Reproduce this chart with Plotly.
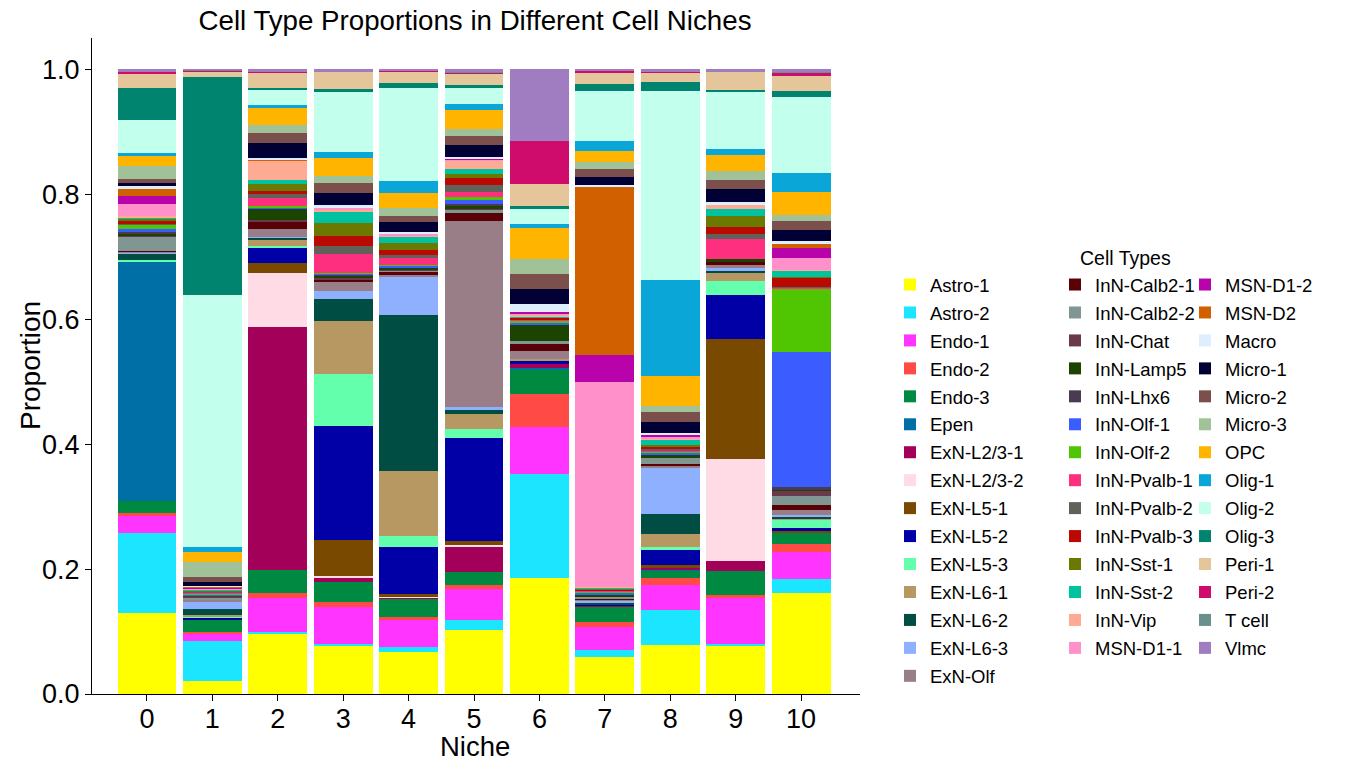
import plotly.graph_objects as go

niches = list(range(11))

cell_types = [
    "Astro-1", "Astro-2", "Endo-1", "Endo-2", "Endo-3", "Epen",
    "ExN-L2/3-1", "ExN-L2/3-2", "ExN-L5-1", "ExN-L5-2", "ExN-L5-3",
    "ExN-L6-1", "ExN-L6-2", "ExN-L6-3", "ExN-Olf",
    "InN-Calb2-1", "InN-Calb2-2", "InN-Chat", "InN-Lamp5", "InN-Lhx6",
    "InN-Olf-1", "InN-Olf-2", "InN-Pvalb-1", "InN-Pvalb-2", "InN-Pvalb-3",
    "InN-Sst-1", "InN-Sst-2", "InN-Vip", "MSN-D1-1",
    "MSN-D1-2", "MSN-D2", "Macro", "Micro-1", "Micro-2", "Micro-3",
    "OPC", "Olig-1", "Olig-2", "Olig-3", "Peri-1", "Peri-2", "T cell", "Vlmc",
]

colors = [
    "#FFFF00", "#1CE6FF", "#FF34FF", "#FF4A46", "#008941", "#006FA6",
    "#A30059", "#FFDBE5", "#7A4900", "#0000A6", "#63FFAC",
    "#B79762", "#004D43", "#8FB0FF", "#997D87",
    "#5A0007", "#809693", "#6A3A4C", "#1B4400", "#4A3B53",
    "#3B5DFF", "#4FC601", "#FF2F80", "#61615A", "#BA0900",
    "#6B7900", "#00C2A0", "#FFAA92", "#FF90C9",
    "#B903AA", "#D16100", "#DDEFFF", "#000035", "#7B4F4B", "#A1C299",
    "#FFB500", "#0AA6D8", "#C2FFED", "#00846F", "#E5C69A", "#CF0C6B", "#6A8F8D", "#A07CC0",
]

# proportions per niche, in the order of cell_types
niche_0 = [.130, .128, .027, .005, .020, .385, 0, 0, 0, 0, .002, 0, .010, .001, .002,
           .002, .022, .002, .004, .001, .006, .006, .001, .001, .005, .003, .002, .003, .018,
           .014, .010, .005, .005, .006, .021, .017, .005, .053, .051, .022, .005, 0, .003]
niche_1 = [.021, .064, .011, .004, .019, 0, 0, 0, .001, .002, .001, .004, .009, .013, .002,
           .001, .003, .001, .001, .001, .002, .001, .001, .002, .001, .001, .001, .001, .001,
           .001, .002, .001, .006, .009, .023, .017, .007, .405, .350, .009, .001, .001, .001]
niche_2 = [.097, .003, .055, .008, .037, 0, .392, .087, .016, .026, .002, .011, .002, .002, .013,
           .011, .001, .002, .018, .001, .001, .002, .013, .006, .006, .011, .006, .031, .001,
           0, .002, .002, .024, .016, .013, .027, .005, .026, .002, .024, .003, 0, .003]
niche_3 = [.077, .003, .060, .008, .032, 0, .007, .003, .057, .183, .084, .085, .035, .013, .014,
           .003, .001, .002, .004, .001, .002, .002, .030, .013, .016, .021, .018, .003, .002,
           0, 0, .005, .019, .016, .011, .029, .011, .096, .005, .027, .001, 0, .003]
niche_4 = [.068, .007, .043, .006, .029, 0, .002, .001, .004, .075, .018, .105, .250, .061, .003,
           .005, .001, .001, .004, .001, .002, .002, .010, .005, .008, .011, .011, .002, .003,
           0, 0, .002, .016, .010, .013, .024, .019, .149, .008, .019, .001, 0, .002]
niche_5 = [.103, .015, .050, .007, .020, 0, .041, .002, .007, .165, .014, .024, .006, .005, .298,
           .013, .005, .001, .006, .003, .006, .005, .008, .011, .011, .006, .008, .014, .001,
           .002, 0, .003, .019, .014, .011, .030, .010, .027, .003, .019, .002, .001, .004]
niche_6 = [.185, .167, .076, .052, .040, .002, .006, 0, 0, .005, .001, .002, 0, 0, .013,
           .011, .005, 0, .027, 0, .003, .003, .002, 0, .002, 0, .003, .002, .002,
           .002, 0, .014, .024, .024, .024, .049, .006, .024, .005, .035, .069, 0, .115]
niche_7 = [.060, .010, .038, .007, .025, 0, .002, 0, 0, .002, 0, 0, .003, .002, .002,
           .002, .004, 0, .003, 0, .002, .002, .002, 0, .002, .001, .002, .001, .328,
           .043, .270, .002, .013, .013, .011, .018, .016, .080, .011, .019, .003, 0, .002]
niche_8 = [.079, .056, .040, .010, .013, .002, .003, 0, .003, .024, .005, .021, .032, .075, .002,
           .003, .010, 0, .006, 0, .002, .002, .002, .003, .003, .003, .008, .002, .003,
           .003, 0, .002, .018, .016, .010, .048, .153, .303, .015, .015, .002, 0, .003]
niche_9 = [.078, .002, .073, .005, .039, 0, .016, .162, .192, .071, .022, .014, .002, .005, .006,
           .003, 0, 0, .006, 0, 0, 0, .032, .008, .010, .019, .010, .008, 0,
           0, 0, .003, .022, .014, .014, .026, .010, .091, .003, .029, .001, 0, .003]
niche_10 = [.163, .022, .043, .013, .019, 0, 0, 0, .002, .006, .013, .002, .003, .003, .008,
            .008, .014, .008, .003, .003, .217, .103, .001, .002, .014, .002, .010, .001, .019,
            .016, .006, .005, .018, .014, .011, .037, .030, .122, .010, .024, .005, .001, .005]

niche_values = [niche_0, niche_1, niche_2, niche_3, niche_4, niche_5,
                niche_6, niche_7, niche_8, niche_9, niche_10]

legend_of = ["legend"] * 15 + ["legend2"] * 14 + ["legend3"] * 14

fig = go.Figure()
for i, (name, col) in enumerate(zip(cell_types, colors)):
    fig.add_trace(go.Bar(
        x=niches,
        y=[vals[i] for vals in niche_values],
        name=name,
        marker=dict(color=col, line=dict(width=0)),
        width=0.9,
        legend=legend_of[i],
        legendgroup=name,
    ))

font_family = "Liberation Sans, Arial, sans-serif"
leg_common = dict(
    yanchor="top", xanchor="left", bgcolor="rgba(0,0,0,0)",
    font=dict(family=font_family, size=18.5, color="black"),
    tracegroupgap=0.9, traceorder="grouped", itemclick=False,
)

L, R, T, B = 92, 500, 38, 78
PW = 1360 - L - R
PH = 772 - T - B

def px_x(p):
    return (p - L) / PW

def px_y(p):
    return (772 - B - p) / PH

fig.update_layout(
    width=1360, height=772,
    barmode="stack", barnorm="fraction",
    plot_bgcolor="white", paper_bgcolor="white",
    margin=dict(l=L, r=R, t=T, b=B, autoexpand=False),
    font=dict(family=font_family, color="black"),
    title=dict(text="Cell Type Proportions in Different Cell Niches",
               x=px_x(475), xref="paper", xanchor="center",
               y=1 - 20 / 772, yanchor="middle",
               font=dict(size=27.7, family=font_family, color="black")),
    xaxis=dict(
        range=[-0.84, 10.9], tickmode="array", tickvals=niches,
        ticktext=[str(n) for n in niches],
        showline=True, linecolor="black", linewidth=1.2,
        ticks="outside", ticklen=6, tickwidth=1.2, tickcolor="black",
        showgrid=False, zeroline=False, automargin=False,
        ticklabelstandoff=-6,
        tickfont=dict(size=27, family=font_family),
    ),
    yaxis=dict(
        range=[0, 1.05], tickmode="array",
        tickvals=[0, 0.2, 0.4, 0.6, 0.8, 1.0],
        ticktext=["0.0", "0.2", "0.4", "0.6", "0.8", "1.0"],
        showline=True, linecolor="black", linewidth=1.2,
        ticks="outside", ticklen=6, tickwidth=1.2, tickcolor="black",
        showgrid=False, zeroline=False, automargin=False,
        tickfont=dict(size=27, family=font_family),
    ),
    legend=dict(x=px_x(890), y=px_y(266), **leg_common),
    legend2=dict(x=px_x(1055), y=px_y(266), **leg_common),
    legend3=dict(x=px_x(1185), y=px_y(266), **leg_common),
    annotations=[
        dict(text="Cell Types", x=px_x(1125), y=px_y(258), xref="paper", yref="paper",
             xanchor="center", yanchor="middle", showarrow=False,
             font=dict(size=19.5, family=font_family, color="black")),
        dict(text="Niche", x=px_x(475), y=px_y(746), xref="paper", yref="paper",
             xanchor="center", yanchor="middle", showarrow=False,
             font=dict(size=27.5, family=font_family, color="black")),
        dict(text="Proportion", x=px_x(30), y=px_y(366), xref="paper", yref="paper",
             xanchor="center", yanchor="middle", showarrow=False, textangle=-90,
             font=dict(size=28, family=font_family, color="black")),
    ],
)

fig.write_html("out.html")
